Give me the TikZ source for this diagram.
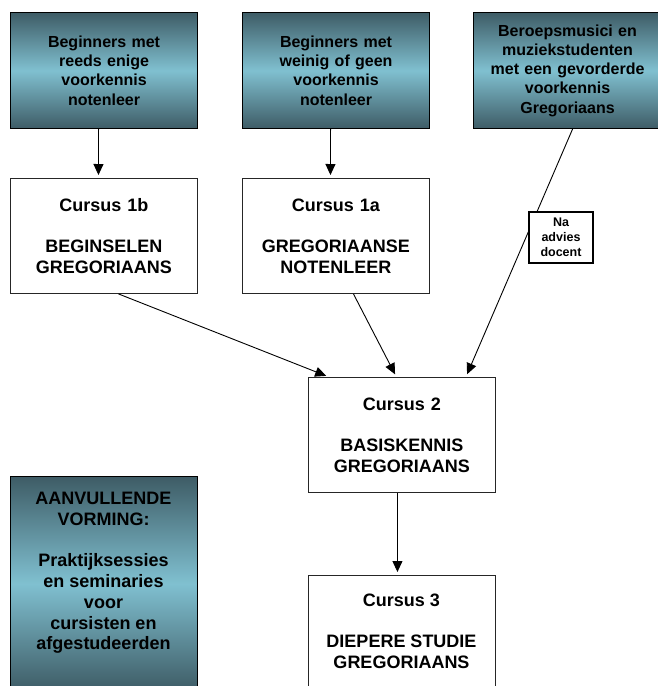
\documentclass[tikz,border=0pt]{standalone}
\usepackage{fontspec}
\setmainfont{Liberation Sans}
\usetikzlibrary{arrows.meta}
\definecolor{dk}{RGB}{62,92,102}
\definecolor{lt}{RGB}{128,192,208}
\begin{document}
\begin{tikzpicture}[x=1pt,y=-1pt,
  darkbox/.style={draw=black,line width=1.1pt,top color=dk,bottom color=dk,middle color=lt,
    minimum width=187pt,minimum height=116pt,text width=180pt,align=center,inner sep=0pt,
    font=\fontsize{16}{19.2}\selectfont\bfseries,anchor=north west},
  coursebox/.style={draw=black!85,line width=0.9pt,fill=white,minimum width=187pt,
    minimum height=115pt,text width=180pt,align=center,inner sep=0pt,
    font=\fontsize{18}{20.7}\selectfont\bfseries,anchor=north west},
  bigtext/.style={font=\fontsize{18}{20.7}\selectfont\bfseries,align=center,inner sep=0pt},
  arr/.style={-{Triangle[length=11pt,width=10pt]},line width=0.9pt,shorten >=3pt}]
\useasboundingbox (0,0) rectangle (658,686);
\clip (0,0) rectangle (658,686);
% top boxes
\node[darkbox] (pa) at (10,12) {Beginners met\\reeds enige\\voorkennis\\notenleer};
\node[darkbox] (pb) at (242,12) {Beginners met\\weinig of geen\\voorkennis\\notenleer};
\node[darkbox,minimum width=188pt] (pc) at (473,12) {Beroepsmusici en\\muziekstudenten\\met een gevorderde\\voorkennis\\Gregoriaans};
% courses
\node[coursebox] (c1b) at (10,178) {Cursus 1b\\[20.7pt]BEGINSELEN\\GREGORIAANS};
\node[coursebox] (c1a) at (242,178) {Cursus 1a\\[20.7pt]GREGORIAANSE\\NOTENLEER};
\node[coursebox] (c2) at (308,377) {Cursus 2\\[20.7pt]BASISKENNIS\\GREGORIAANS};
\node[coursebox,minimum height=125pt] (c3) at (308,575) {};
\node[bigtext] (c3t) at (401.5,631) {Cursus 3\\[20.7pt]DIEPERE STUDIE\\GREGORIAANS};
% extra box
\node[darkbox,minimum height=214pt] (av) at (10,476) {};
\node[bigtext] (avt) at (103.5,573) {AANVULLENDE\\VORMING:\\[20.7pt]Praktijksessies\\en seminaries\\voor\\cursisten en\\afgestudeerden};
% arrows
\draw[arr] ([xshift=-5.5pt]pa.south) -- ([xshift=-5.5pt]c1b.north);
\draw[arr] ([xshift=-5.5pt]pb.south) -- ([xshift=-5.5pt]c1a.north);
\draw[arr] ([xshift=14.5pt]c1b.south) -- ([xshift=21pt]c2.north west);
\draw[arr] ([xshift=17.5pt]c1a.south) -- ([xshift=-5.5pt]c2.north);
\draw[arr] ([xshift=5pt]pc.south) -- ([xshift=-30pt]c2.north east);
\draw[arr] ([xshift=-4.5pt]c2.south) -- ([xshift=-4.5pt]c3.north);
% label
\node[draw,line width=1.1pt,fill=white,minimum width=64pt,minimum height=51pt,inner sep=0pt,
  align=center,font=\fontsize{12.5}{14.8}\selectfont\bfseries] (na) at (561,237.5) {Na\\advies\\docent};
\end{tikzpicture}
\end{document}
